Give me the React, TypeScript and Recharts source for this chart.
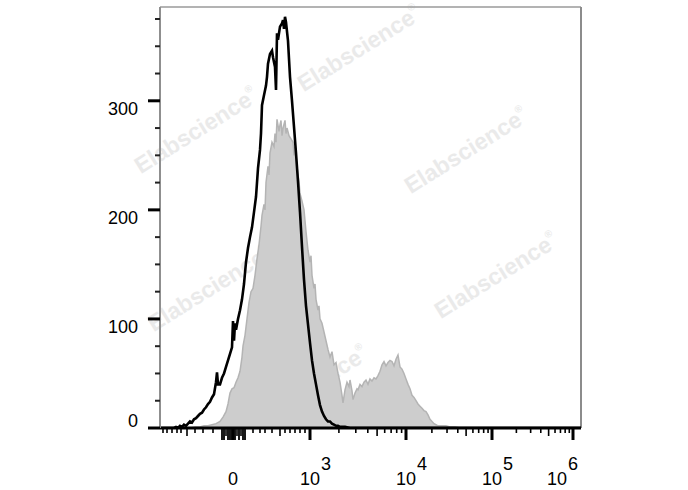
import React from 'react';
import { ComposedChart, Area, Line, XAxis, YAxis, ReferenceLine } from 'recharts';

// Filled gray histogram (channel, count)
const grayChannels = [0, 30, 35, 40, 44, 48, 52, 56, 60, 63, 66, 68, 70, 72, 74, 76, 78, 80, 82, 83, 85, 87, 89, 91, 93, 95, 97, 99, 101, 102, 104, 105, 106, 108, 109, 110, 112, 114, 115, 116, 117, 119, 120, 121, 122, 123, 125, 126, 127, 129, 131, 133, 134, 135, 137, 138, 139, 140, 142, 144, 145, 146, 148, 150, 151, 152, 154, 155, 156, 158, 159, 160, 162, 164, 166, 168, 170, 172, 174, 176, 178, 180, 182, 183, 185, 187, 189, 190, 192, 193, 195, 197, 198, 200, 202, 204, 206, 208, 210, 212, 214, 216, 218, 220, 222, 224, 226, 228, 230, 232, 234, 236, 238, 240, 242, 244, 246, 248, 250, 252, 254, 256, 258, 260, 262, 264, 266, 268, 270, 272, 274, 276, 278, 282, 286, 290, 295, 300, 421];
const grayCounts = [0, 0, 1, 1, 2, 2, 3, 4, 6, 10, 15, 22, 32, 36, 37, 42, 46, 52, 65, 75, 85, 100, 115, 125, 128, 140, 155, 168, 185, 195, 205, 200, 225, 240, 232, 252, 262, 258, 270, 262, 283, 272, 278, 282, 268, 275, 282, 270, 275, 268, 265, 262, 250, 258, 240, 232, 226, 215, 208, 200, 190, 180, 163, 152, 158, 140, 128, 132, 118, 108, 112, 100, 96, 88, 80, 72, 65, 70, 58, 60, 50, 42, 30, 23, 35, 42, 38, 44, 34, 26, 32, 36, 35, 40, 38, 42, 44, 40, 45, 43, 46, 45, 48, 52, 58, 61, 57, 60, 62, 61, 57, 63, 67, 56, 54, 50, 45, 40, 36, 30, 28, 25, 22, 20, 18, 16, 15, 12, 8, 6, 4, 3, 2, 2, 2, 1, 1, 0, 0];

// Black outline histogram (channel, count)
const blackChannels = [0, 14, 16, 18, 20, 22, 24, 26, 28, 30, 32, 34, 36, 38, 40, 42, 44, 46, 48, 50, 52, 54, 56, 57, 58, 60, 62, 64, 66, 68, 70, 72, 73, 74, 75, 76, 78, 80, 82, 84, 86, 88, 90, 92, 94, 96, 98, 100, 101, 102, 104, 106, 107, 108, 110, 112, 113, 115, 116, 117, 118, 120, 122, 123, 124, 125, 126, 128, 130, 132, 134, 136, 138, 140, 142, 144, 146, 148, 150, 152, 154, 156, 158, 160, 162, 164, 166, 168, 170, 172, 174, 176, 178, 180, 185, 190, 421];
const blackCounts = [0, 0, 1, 0, 2, 1, 3, 2, 4, 6, 5, 8, 9, 11, 13, 14, 17, 19, 22, 24, 28, 31, 42, 51, 40, 40, 46, 50, 56, 62, 68, 74, 98, 80, 96, 90, 100, 108, 118, 132, 152, 165, 175, 184, 198, 212, 238, 255, 270, 296, 305, 314, 322, 334, 343, 346, 340, 331, 310, 362, 356, 368, 371, 374, 366, 377, 372, 355, 322, 300, 276, 252, 226, 198, 166, 136, 112, 95, 78, 62, 50, 40, 30, 21, 15, 11, 8, 6, 6, 4, 3, 2, 2, 1, 1, 0, 0];

// Axis ticks
const yTickValues = [0, 25, 50, 75, 100, 125, 150, 175, 200, 225, 250, 275, 300, 325, 350, 375];
const yMajorValues = [0, 100, 200, 300];
const yMajorLabels = ['0', '100', '200', '300'];

const xMajorChannels = [73, 150, 246, 332, 413];
const xMajorBases = ['0', '10', '10', '10', '10'];
const xMajorExps = ['', '3', '4', '5', '6'];
const xLinearMinor = [3, 7, 12, 17, 21, 35, 43, 53, 93, 100, 105, 112, 125, 130, 135, 140, 145];
const xLinearMedium = [27, 120];
const xClusterTicks = [62, 64, 66, 68, 70, 72, 75, 77, 79, 81, 83, 85];
const xClusterShort = [66, 77, 81];

const watermarks = [
  [197, 132], [360, 50], [467, 152], [210, 290], [497, 277], [307, 390],
];

const grayData = grayChannels.map((c, i) => ({ ch: c, gray: grayCounts[i] }));
const blackData = blackChannels.map((c, i) => ({ ch: c, black: blackCounts[i] }));

const tickKind = new Map<number, string>();
xLinearMinor.forEach((v) => tickKind.set(v, 'minor'));
xLinearMedium.forEach((v) => tickKind.set(v, 'medium'));
xClusterTicks.forEach((v) => tickKind.set(v, xClusterShort.includes(v) ? 'medium' : 'cluster'));
for (let i = 1; i < xMajorChannels.length - 1; i++) {
  const a = xMajorChannels[i];
  const b = xMajorChannels[i + 1];
  for (let k = 2; k <= 9; k++) {
    const v = Math.round((a + (b - a) * Math.log10(k)) * 100) / 100;
    tickKind.set(v, k === 5 ? 'medium' : 'minor');
  }
}
xMajorChannels.forEach((v) => tickKind.set(v, 'major'));
const xTicks = Array.from(tickKind.keys()).sort((p, q) => p - q);

const FONT = '"Liberation Sans", Arial, Helvetica, sans-serif';

const XTick = (props: any) => {
  const { x, y, payload } = props;
  const v = payload.value;
  const kind = tickKind.get(v) || 'minor';
  const len = kind === 'major' || kind === 'cluster' ? 12 : kind === 'medium' ? 8 : 5;
  const w = kind === 'major' ? 3 : kind === 'cluster' ? 1.8 : 1.6;
  const mi = xMajorChannels.indexOf(v);
  let label = null;
  if (mi >= 0) {
    const base = xMajorBases[mi];
    const exp = xMajorExps[mi];
    const shift = mi === xMajorChannels.length - 1 ? -16 : 0;
    label = (
      <g>
        <text x={x + shift} y={485} textAnchor="middle" fontSize={18} fontFamily={FONT} fill="#000">{base}</text>
        {exp ? (
          <text x={x + shift + 11} y={470} textAnchor="start" fontSize={18} fontFamily={FONT} fill="#000">{exp}</text>
        ) : null}
      </g>
    );
  }
  return (
    <g>
      <line x1={x} x2={x} y1={y} y2={y + len} stroke="#000" strokeWidth={w} />
      {label}
    </g>
  );
};

const YTick = (props: any) => {
  const { x, y, payload } = props;
  const v = payload.value;
  const mi = yMajorValues.indexOf(v);
  if (mi >= 0) {
    const dy = v === 0 ? -1 : 14;
    return (
      <g>
        <line x1={x - 12} x2={x} y1={y} y2={y} stroke="#000" strokeWidth={3} />
        <text x={x - 22} y={y + dy} textAnchor="end" fontSize={18} fontFamily={FONT} fill="#000">{yMajorLabels[mi]}</text>
      </g>
    );
  }
  return <line x1={x - 5} x2={x} y1={y} y2={y} stroke="#222" strokeWidth={2} />;
};

const Watermarks = () => (
  <g style={{ pointerEvents: 'none' }}>
    {watermarks.map(([cx, cy], i) => (
      <text
        key={i}
        x={cx}
        y={cy}
        textAnchor="middle"
        dominantBaseline="middle"
        transform={`rotate(-32 ${cx} ${cy})`}
        fontSize={23}
        fontWeight="bold"
        fontFamily={FONT}
        fill="#e6e6e6"
        opacity={0.8}
      >
        Elabscience
        <tspan fontSize={10} dy={-9}>®</tspan>
      </text>
    ))}
  </g>
);

export default function App() {
  return (
    <div style={{ position: 'absolute', left: 0, top: 0, width: 688, height: 490, background: '#fff' }}>
      <ComposedChart
        width={688}
        height={490}
        margin={{ top: 7, right: 107, bottom: 22, left: 100 }}
      >
        <XAxis
          dataKey="ch"
          type="number"
          domain={[0, 421]}
          ticks={xTicks}
          interval={0}
          tick={<XTick />}
          tickLine={false}
          tickSize={0}
          tickMargin={0}
          height={40}
          axisLine={{ stroke: '#000', strokeWidth: 3 }}
          allowDataOverflow
        />
        <YAxis
          type="number"
          domain={[0, 386]}
          ticks={yTickValues}
          interval={0}
          tick={<YTick />}
          tickLine={false}
          tickSize={0}
          tickMargin={0}
          width={60}
          axisLine={{ stroke: '#8f8f8f', strokeWidth: 2 }}
          allowDataOverflow
        />
        <ReferenceLine y={386} stroke="#9a9a9a" strokeWidth={1.5} />
        <ReferenceLine x={421} stroke="#8c8c8c" strokeWidth={2} />
        <Area
          data={grayData}
          dataKey="gray"
          type="linear"
          stroke="#b4b4b4"
          strokeWidth={1.5}
          fill="#cdcdcd"
          fillOpacity={1}
          isAnimationActive={false}
          dot={false}
          activeDot={false}
        />
        <Watermarks />
        <Line
          data={blackData}
          dataKey="black"
          type="linear"
          stroke="#000"
          strokeWidth={2.6}
          dot={false}
          activeDot={false}
          isAnimationActive={false}
        />
      </ComposedChart>
    </div>
  );
}
